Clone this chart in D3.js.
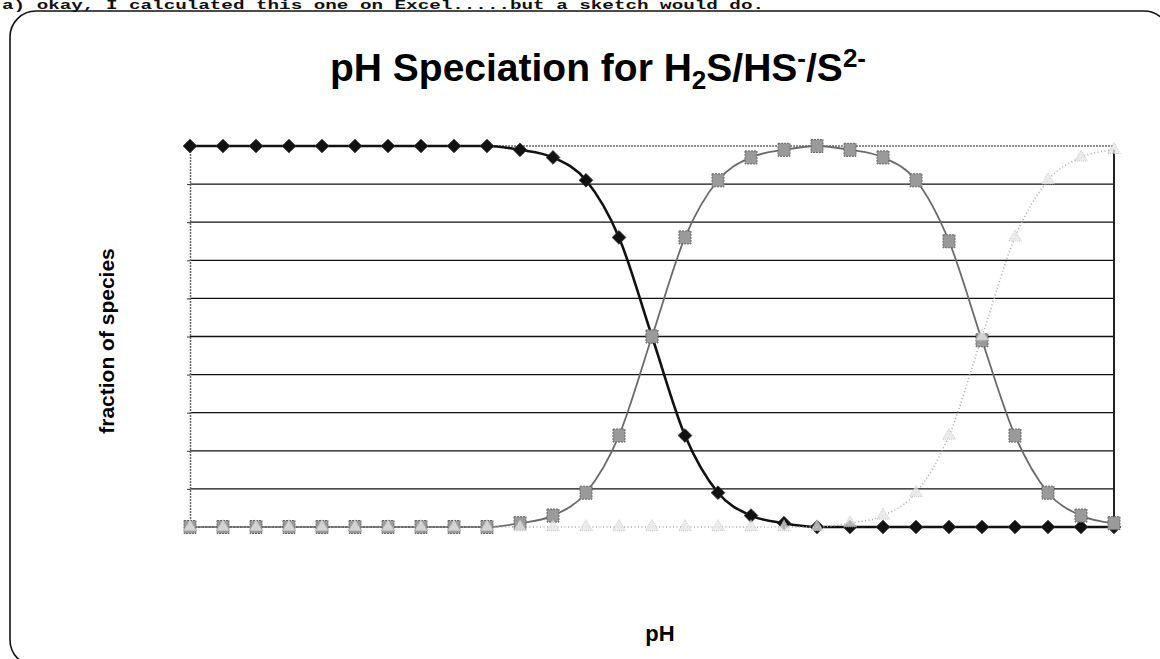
<!DOCTYPE html>
<html>
<head>
<meta charset="utf-8">
<script src="https://cdn.jsdelivr.net/npm/d3@7"></script>
<style>
  html, body { margin: 0; padding: 0; background: #fff; }
  svg { display: block; }
</style>
</head>
<body>
<script>
// ---------- DATA ----------
const pH = [0, 0.5, 1, 1.5, 2, 2.5, 3, 3.5, 4, 4.5, 5, 5.5, 6, 6.5, 7, 7.5, 8, 8.5, 9, 9.5, 10, 10.5, 11, 11.5, 12, 12.5, 13, 13.5, 14];
const fracH2S = [1, 1, 1, 1, 1, 1, 1, 1, 1, 1, 0.99, 0.97, 0.91, 0.76, 0.5, 0.24, 0.09, 0.03, 0.01, 0, 0, 0, 0, 0, 0, 0, 0, 0, 0];
const fracHS  = [0, 0, 0, 0, 0, 0, 0, 0, 0, 0, 0.01, 0.03, 0.09, 0.24, 0.5, 0.76, 0.91, 0.97, 0.99, 1, 0.99, 0.97, 0.91, 0.75, 0.49, 0.24, 0.09, 0.03, 0.01];
const fracS   = [0, 0, 0, 0, 0, 0, 0, 0, 0, 0, 0, 0, 0, 0, 0, 0, 0, 0, 0, 0, 0.01, 0.03, 0.09, 0.24, 0.5, 0.76, 0.91, 0.97, 0.99];
const yTicks  = [0, 0.1, 0.2, 0.3, 0.4, 0.5, 0.6, 0.7, 0.8, 0.9, 1];

const W = 1160, H = 659;
const svg = d3.select("body").append("svg").attr("width", W).attr("height", H);

// scanned heading line above the chart frame
svg.append("text")
  .attr("x", 2).attr("y", 9)
  .attr("font-family", "Liberation Mono, Courier New, monospace")
  .attr("font-size", 12).attr("font-weight", "bold")
  .attr("textLength", 762).attr("lengthAdjust", "spacingAndGlyphs")
  .attr("fill", "#111")
  .text("a) okay, I calculated this one on Excel.....but a sketch would do.");

// chart frame (rounded)
svg.append("rect")
  .attr("x", 10).attr("y", 11).attr("width", 1160).attr("height", 655)
  .attr("rx", 26).attr("ry", 26)
  .attr("fill", "none").attr("stroke", "#111").attr("stroke-width", 1.6);

// scales
const x = d3.scaleLinear().domain([0, 14]).range([190, 1114]);
const y = d3.scaleLinear().domain([0, 1]).range([527, 146]);

// gridlines
const g = svg.append("g");
g.selectAll("line.grid").data(yTicks.filter(d => d > 0)).join("line")
  .attr("class", "grid")
  .attr("x1", x(0)).attr("x2", x(14))
  .attr("y1", d => y(d)).attr("y2", d => y(d))
  .attr("stroke", d => d === 1 ? "#666" : "#111")
  .attr("stroke-width", d => d === 1 ? 1.3 : 1.3)
  .attr("stroke-dasharray", d => d === 1 ? "2,1" : null);

// left axis (no labels)
const yAxis = d3.axisLeft(y).tickValues(yTicks).tickSize(3).tickFormat("");
const ag = svg.append("g").attr("transform", `translate(${x(0)},0)`).call(yAxis);
ag.select(".domain").attr("stroke", "#666").attr("stroke-width", 1.5).attr("stroke-dasharray", "2,1");
ag.selectAll(".tick line").attr("stroke", "#333");

// right border
svg.append("line")
  .attr("x1", x(14)).attr("x2", x(14))
  .attr("y1", y(0.99)).attr("y2", y(0))
  .attr("stroke", "#222").attr("stroke-width", 2);

const rows = pH.map((p, i) => ({ p, a: fracH2S[i], b: fracHS[i], c: fracS[i] }));
const mk = key => d3.line().x(d => x(d.p)).y(d => y(d[key])).curve(d3.curveMonotoneX);

// H2S
svg.append("path").datum(rows).attr("d", mk("a"))
  .attr("fill", "none").attr("stroke", "#111").attr("stroke-width", 2.6);
svg.selectAll("path.dia").data(rows).join("path")
  .attr("class", "dia")
  .attr("d", d3.symbol().type(d3.symbolDiamond2).size(120))
  .attr("transform", d => `translate(${x(d.p)},${y(d.a)})`)
  .attr("fill", "#111").attr("stroke", "#333").attr("stroke-width", 0.8);

// HS-
svg.append("path").datum(rows).attr("d", mk("b"))
  .attr("fill", "none").attr("stroke", "#6a6a6a").attr("stroke-width", 1.8);
svg.selectAll("rect.sq").data(rows).join("rect")
  .attr("class", "sq")
  .attr("x", d => x(d.p) - 6).attr("y", d => y(d.b) - 6.5)
  .attr("width", 12).attr("height", 13)
  .attr("fill", "#9a9a9a").attr("stroke", "#666").attr("stroke-width", 1)
  .attr("stroke-dasharray", "2,1");

// S2-
svg.append("path").datum(rows).attr("d", mk("c"))
  .attr("fill", "none").attr("stroke", "#aaa").attr("stroke-width", 1.6)
  .attr("stroke-dasharray", "1,2.5");
svg.selectAll("path.tri").data(rows).join("path")
  .attr("class", "tri")
  .attr("d", d3.symbol().type(d3.symbolTriangle).size(70))
  .attr("transform", d => `translate(${x(d.p)},${y(d.c)})`)
  .attr("fill", "#e6e6e6").attr("fill-opacity", 0.75)
  .attr("stroke", "#bbb").attr("stroke-width", 0.8).attr("stroke-dasharray", "1,1");

// title
const t = svg.append("text")
  .attr("x", 598).attr("y", 81)
  .attr("text-anchor", "middle")
  .attr("font-family", "Liberation Sans, Arial, sans-serif")
  .attr("font-weight", "bold").attr("font-size", 39).attr("fill", "#000");
t.append("tspan").text("pH Speciation for H");
t.append("tspan").attr("font-size", 26).attr("dy", 8).text("2");
t.append("tspan").attr("dy", -8).text("S/HS");
t.append("tspan").attr("font-size", 26).attr("dy", -14).text("-");
t.append("tspan").attr("dy", 14).text("/S");
t.append("tspan").attr("font-size", 26).attr("dy", -14).text("2-");

// axis titles
svg.append("text")
  .attr("transform", "translate(114,341) rotate(-90)")
  .attr("text-anchor", "middle")
  .attr("font-family", "Liberation Sans, Arial, sans-serif")
  .attr("font-weight", "bold").attr("font-size", 21).attr("fill", "#000")
  .text("fraction of species");

svg.append("text")
  .attr("x", 660).attr("y", 641)
  .attr("text-anchor", "middle")
  .attr("font-family", "Liberation Sans, Arial, sans-serif")
  .attr("font-weight", "bold").attr("font-size", 22).attr("fill", "#000")
  .text("pH");
</script>
</body>
</html>
